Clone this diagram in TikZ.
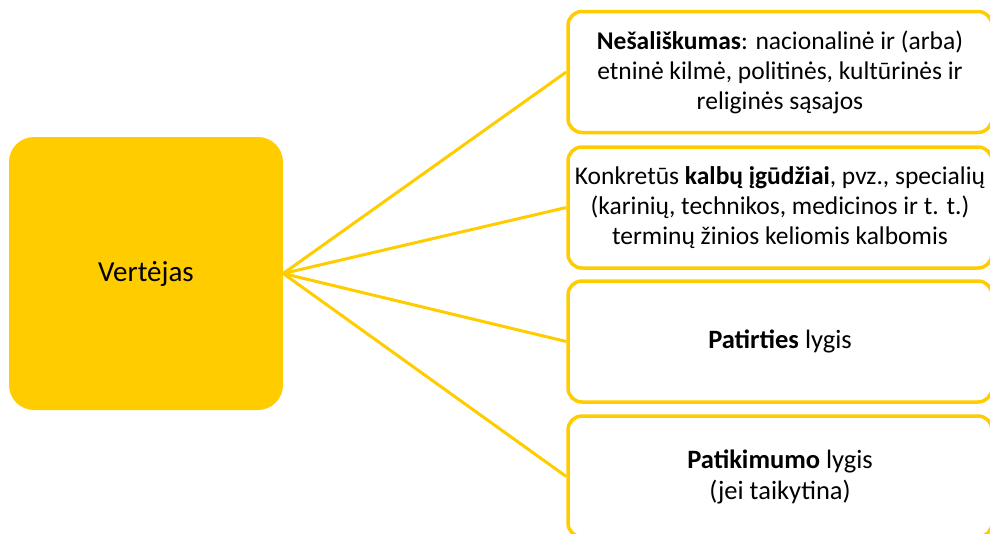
\documentclass[tikz,border=0pt]{standalone}
\usepackage{fontspec}
\setmainfont{Carlito}
\definecolor{geltona}{HTML}{FFCC00}
\tikzset{
  pagr/.style={fill=geltona, rounded corners=25pt, minimum width=274pt, minimum height=273pt, inner sep=0pt, font=\fontsize{29}{35}\selectfont},
  sav/.style={draw=geltona, line width=3.5pt, fill=white, rounded corners=14pt, minimum width=424pt, minimum height=121pt, align=center, inner sep=0pt},
  smulk/.style={font=\fontsize{25.5}{30}\selectfont},
  didel/.style={font=\fontsize{26.5}{31}\selectfont},
  jung/.style={draw=geltona, line width=3pt}
}
\begin{document}
\begin{tikzpicture}[x=1pt, y=1pt]
  \useasboundingbox (0,0) rectangle (990,-533);
  \node[pagr] (vert) at (146,-273.5) {Vertėjas};
  \node[sav, smulk] (nesal) at (780,-72) {\textbf{Nešališkumas}: nacionalinė ir (arba)\\ etninė kilmė, politinės, kultūrinės ir\\ religinės sąsajos};
  \node[sav, smulk] (kalb) at (780,-207.5) {Konkretūs \textbf{kalbų įgūdžiai}, pvz., specialių\\ (karinių, technikos, medicinos ir t. t.)\\ terminų žinios keliomis kalbomis};
  \node[sav, didel] (pat) at (780,-341.5) {\textbf{Patirties} lygis};
  \node[sav, didel] (patik) at (780,-476.5) {\textbf{Patikimumo} lygis\\ (jei taikytina)};

  \draw[jung] (vert.east) to (nesal.west);
  \draw[jung] (vert.east) to (kalb.west);
  \draw[jung] (vert.east) to (pat.west);
  \draw[jung] (vert.east) to (patik.west);
\end{tikzpicture}
\end{document}
